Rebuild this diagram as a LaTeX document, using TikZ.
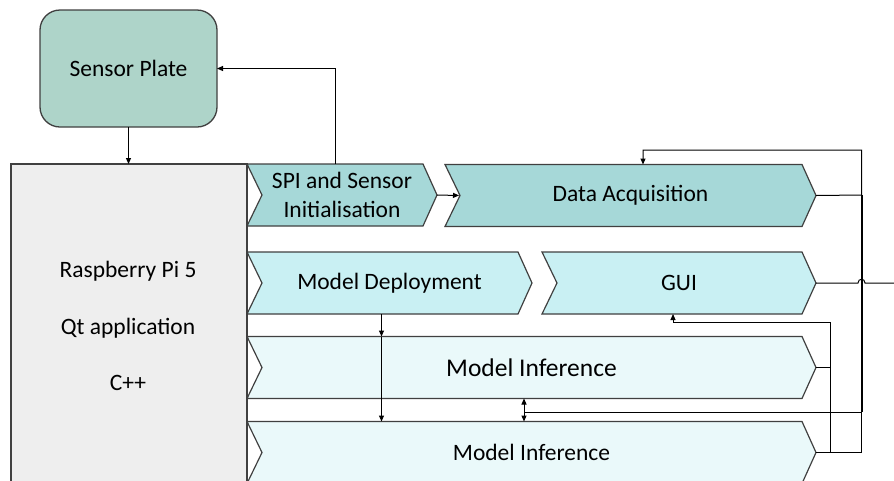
\documentclass[tikz,border=0pt]{standalone}
\usepackage{fontspec}
\setmainfont{Carlito}
\usetikzlibrary{arrows.meta,calc,backgrounds}
\definecolor{edge}{RGB}{64,64,64}
\definecolor{spfill}{RGB}{174,212,201}
\definecolor{dafill}{RGB}{166,216,216}
\definecolor{mdfill}{RGB}{201,240,243}
\definecolor{mifill}{RGB}{234,249,250}
\definecolor{rpifill}{RGB}{238,238,238}
\newcommand\chevbg[2]{%
  \begin{scope}[on background layer]
    \filldraw[chevline, fill=#2] (#1.north west) -- ([xshift=-14pt]#1.north east) -- (#1.east)
      -- ([xshift=-14pt]#1.south east) -- (#1.south west) -- ([xshift=15pt]#1.west) -- cycle;
  \end{scope}}
\begin{document}
\begin{tikzpicture}[x=1pt,y=-1pt,
  font=\fontsize{23.5}{28}\selectfont,
  arr/.style={-{Triangle[length=6pt,width=5pt]}},
  dblarr/.style={{Triangle[length=6pt,width=5pt]}-{Triangle[length=6pt,width=5pt]}},
  conn/.style={draw=black, line width=1pt},
  chevline/.style={draw=edge, line width=1.2pt},
  cbox/.style={inner sep=0pt, outer sep=0pt, minimum height=62pt, text=black, align=center},
  spbox/.style={draw=edge, fill=spfill, line width=1.3pt, rounded corners=20pt,
    minimum width=177pt, minimum height=117pt, inner sep=0pt, outer sep=0pt},
  rpibox/.style={draw=edge, fill=rpifill, line width=1.2pt, minimum width=236pt,
    minimum height=332pt, inner sep=0pt, outer sep=0pt}
]
\useasboundingbox (0,0) rectangle (894,480);
\clip (0,0) rectangle (894,480);

% nodes
\node[spbox] (sp) at (128.5,68.5) {Sensor Plate};
\node[rpibox] (rpi) at (129,330) {};
\node[align=center, font=\fontsize{23.5}{56.5}\selectfont] (rpitext) at (128,326)
  {Raspberry Pi 5\\Qt application\\C++};

\node[cbox, minimum width=190pt, font=\fontsize{23.5}{29}\selectfont] (spi) at (342,195)
  {SPI and Sensor\\Initialisation};
\node[cbox, minimum width=371pt] (da) at (630.5,195.5) {\raisebox{-1.5pt}{Data Acquisition}};
\node[cbox, minimum width=285pt] (md) at (389.5,283) {\raisebox{-1.5pt}{Model Deployment}};
\node[cbox, minimum width=274pt] (gui) at (679,283) {\raisebox{-1.5pt}{GUI}};
\node[cbox, minimum width=569pt, font=\fontsize{25.5}{30}\selectfont] (mi1) at (531.5,367.5) {\raisebox{-1pt}{Model Inference}};
\node[cbox, minimum width=569pt] (mi2) at (531.5,452.5) {\raisebox{-1pt}{Model Inference}};

\chevbg{spi}{dafill}
\chevbg{da}{dafill}
\chevbg{md}{mdfill}
\chevbg{gui}{mdfill}
\chevbg{mi1}{mifill}
\chevbg{mi2}{mifill}

% coordinates for bus lines
\coordinate (bus) at (861.5,195);
\coordinate (bustop) at (861.5,150);
\coordinate (busbot) at (861.5,412);
\coordinate (dbl) at (524,412);
\coordinate (loop) at (830,322);
\coordinate (guiout) at (900,283);

% connectors
\draw[conn,arr] (sp.south) -- (sp.south |- rpi.north);
\draw[conn,arr] ([xshift=-7pt]spi.north) |- (sp.east);
\draw[conn,arr] (spi.east) -- ([xshift=14pt]da.west);
\draw[conn,arr] (da.east) -- (bus) -- (bustop) -| ([xshift=12.5pt]da.north);
\draw[conn, line width=2pt] (bus) -- (busbot);
\draw[conn] (busbot) -- (dbl);
\draw[conn,dblarr] (dbl |- mi1.south) -- (dbl |- mi2.north);
\draw[conn] (mi2.east) -- (mi2.east -| busbot) -- (busbot);
\draw[conn] (mi1.east) -- (mi1.east -| loop);
\draw[conn,arr] (mi2.east) -- (mi2.east -| loop) -- (loop) -| ([xshift=-6pt]gui.south);
\draw[conn] (gui.east) -- (858,283) .. controls (858,278) and (865,278) .. (865,283) -- (guiout);
\draw[conn,arr] ([xshift=-8pt]md.south) -- ([xshift=-8pt]md.south |- mi1.north);
\draw[conn,arr] ([xshift=-8pt]md.south |- mi1.north) -- ([xshift=-8pt]md.south |- mi2.north);
\end{tikzpicture}
\end{document}
